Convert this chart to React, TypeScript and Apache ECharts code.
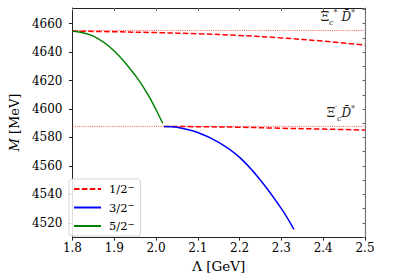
import React, { useEffect, useRef } from "react";
import * as echarts from "echarts";

// Λ [GeV] ticks and M [MeV] ticks
const xTicks = [1.8, 1.9, 2.0, 2.1, 2.2, 2.3, 2.4, 2.5];
const yTicks = [4520, 4540, 4560, 4580, 4600, 4620, 4640, 4660];

// 1/2^- (red dashed), two branches
const lamRedUpper = [1.8, 1.9, 2.0, 2.1, 2.2, 2.3, 2.4, 2.5];
const mRedUpper = [4654.8, 4654.3, 4653.7, 4652.9, 4651.7, 4650.0, 4647.7, 4644.9];
const lamRedLower = [2.019, 2.1, 2.2, 2.3, 2.4, 2.5];
const mRedLower = [4587.8, 4587.6, 4587.2, 4586.5, 4585.9, 4585.2];

// 3/2^- (blue)
const lamBlue = [2.019, 2.05, 2.1, 2.15, 2.2, 2.25, 2.3, 2.33];
const mBlue = [4587.8, 4587.2, 4583.5, 4576.5, 4566, 4550, 4530, 4515.5];

// 5/2^- (green)
const lamGreen = [1.8, 1.85, 1.9, 1.95, 1.98, 2.0, 2.016];
const mGreen = [4654.8, 4651.2, 4640.8, 4623.8, 4610.4, 4599.5, 4590];

// thresholds
const thresholdValues = [4655.2, 4587.8];
const thresholdLabels = [
  "{m|Ξ}{sub|c}{sup|*}{m| }{i|D̄}{sup|*}",
  "{m|Ξ}{sup|′}{sub|c}{i|D̄}{sup|*}",
];

const legendNames = ["1/2-", "3/2-", "5/2-"];

const FONT = "'DejaVu Serif', serif";

const zip = (a: number[], b: number[]) => a.map((v, i) => [v, b[i]]);

export default function App() {
  const ref = useRef<HTMLDivElement>(null);
  useEffect(() => {
    if (!ref.current) return;
    const chart = echarts.init(ref.current, null, { renderer: "svg" });
    const xMin = 1.8, xMax = 2.5;
    const yMin = 4510, yMax = 4671;
    const axisColor = "#222";
    const lineSeries = (name: string, data: number[][], color: string, dashed: boolean, z: number) => ({
      type: "line",
      name,
      data,
      symbol: "none",
      smooth: 0.35,
      lineStyle: { color, width: 1.5, type: dashed ? [5.5, 2.4] : "solid" },
      itemStyle: { color },
      z,
    });
    const option: any = {
      animation: false,
      backgroundColor: "#fff",
      textStyle: { fontFamily: FONT },
      grid: { left: 63, right: 32, top: 8, bottom: 34, containLabel: false },
      legend: {
        data: legendNames,
        orient: "vertical",
        left: 69,
        top: 179,
        itemWidth: 27,
        itemHeight: 14,
        itemGap: 5.5,
        padding: [3, 6, 4, 4],
        backgroundColor: "rgba(255,255,255,0.85)",
        borderColor: "#cccccc",
        borderWidth: 0.8,
        borderRadius: 3,
        itemStyle: { color: "rgba(0,0,0,0)", borderWidth: 0, opacity: 0 },
        formatter: (name: string) => `{a|${name.slice(0, 3)}}{b|−}`,
        textStyle: {
          fontFamily: FONT,
          fontSize: 11.5,
          color: "#000",
          padding: [0, 0, 0, 3],
          rich: {
            a: { fontFamily: FONT, fontSize: 11.5, lineHeight: 14, color: "#000" },
            b: { fontFamily: FONT, fontSize: 8.5, lineHeight: 14, verticalAlign: "top", color: "#000" },
          },
        },
      },
      xAxis: [
        {
          type: "value",
          position: "bottom",
          min: xMin,
          max: xMax,
          interval: 0.1,
          name: "Λ [GeV]",
          nameLocation: "middle",
          nameGap: 21,
          nameTextStyle: { fontFamily: FONT, fontSize: 13.5, color: "#000" },
          axisLine: { show: true, onZero: false, lineStyle: { color: axisColor, width: 1 } },
          axisTick: { show: true, inside: false, length: 3.5, lineStyle: { color: axisColor } },
          axisLabel: {
            customValues: xTicks,
            formatter: (v: number) => v.toFixed(1),
            fontFamily: FONT,
            fontSize: 12,
            color: "#000",
            margin: 5,
          },
          splitLine: { show: false },
        },
        {
          type: "value",
          position: "top",
          min: xMin,
          max: xMax,
          interval: 0.1,
          axisLine: { show: true, onZero: false, lineStyle: { color: axisColor, width: 1 } },
          axisTick: { show: true, inside: true, length: 3, lineStyle: { color: "#666" } },
          axisLabel: { show: false },
          splitLine: { show: false },
        },
      ],
      yAxis: [
        {
          type: "value",
          position: "left",
          min: yMin,
          max: yMax,
          name: "{i|M} [MeV]",
          nameLocation: "middle",
          nameGap: 41,
          nameTextStyle: {
            fontFamily: FONT,
            fontSize: 13,
            color: "#000",
            rich: { i: { fontFamily: FONT, fontStyle: "italic", fontSize: 13, color: "#000" } },
          },
          axisLine: { show: true, onZero: false, lineStyle: { color: axisColor, width: 1 } },
          axisTick: { show: true, inside: false, length: 3.5, customValues: yTicks, lineStyle: { color: axisColor } },
          axisLabel: {
            customValues: yTicks,
            formatter: (v: number) => String(v),
            fontFamily: FONT,
            fontSize: 12,
            color: "#000",
            margin: 10,
          },
          splitLine: { show: false },
        },
        {
          type: "value",
          position: "right",
          min: yMin,
          max: yMax,
          interval: 10,
          axisLine: { show: true, onZero: false, lineStyle: { color: "#777", width: 1.2 } },
          axisTick: { show: true, inside: true, length: 2.5, lineStyle: { color: "#666" } },
          axisLabel: { show: false },
          splitLine: { show: false },
        },
      ],
      series: [
        ...thresholdValues.map((t, i) => ({
          type: "line",
          name: "thr" + i,
          data: [[xMin, t], [xMax, t]],
          symbol: "none",
          silent: true,
          lineStyle: { color: "rgba(255,0,0,0.85)", width: 0.8, type: [1, 1.2] },
          z: 1,
        })),
        lineSeries("1/2-", zip(lamRedUpper, mRedUpper), "#ff0000", true, 2),
        lineSeries("1/2-", zip(lamRedLower, mRedLower), "#ff0000", true, 2),
        lineSeries("3/2-", zip(lamBlue, mBlue), "#0000ff", false, 3),
        lineSeries("5/2-", zip(lamGreen, mGreen), "#008000", false, 3),
      ],
    };
    chart.setOption(option);

    const rich = {
      m: { fontFamily: FONT, fontSize: 12, lineHeight: 18, fill: "#222" },
      i: { fontFamily: FONT, fontStyle: "italic", fontSize: 12, lineHeight: 18, fill: "#222" },
      sub: { fontFamily: FONT, fontStyle: "italic", fontSize: 8, lineHeight: 18, verticalAlign: "bottom", fill: "#222" },
      sup: { fontFamily: FONT, fontSize: 8, lineHeight: 18, verticalAlign: "top", fill: "#222" },
    };
    const graphics = thresholdValues.map((t, i) => {
      const p = chart.convertToPixel({ xAxisIndex: 0, yAxisIndex: 0 }, [xMax, t]) as number[];
      return {
        type: "text",
        x: p[0] - 10,
        y: p[1] - 13,
        z: 10,
        style: {
          text: thresholdLabels[i],
          rich,
          align: "right",
          verticalAlign: "middle",
          fontFamily: FONT,
          fontSize: 12,
          fill: "#222",
        },
      };
    });
    chart.setOption({ graphic: graphics });

    return () => chart.dispose();
  }, []);
  return (
    <div
      ref={ref}
      style={{ position: "fixed", left: 0, top: 0, width: 397, height: 278, background: "#fff" }}
    />
  );
}
